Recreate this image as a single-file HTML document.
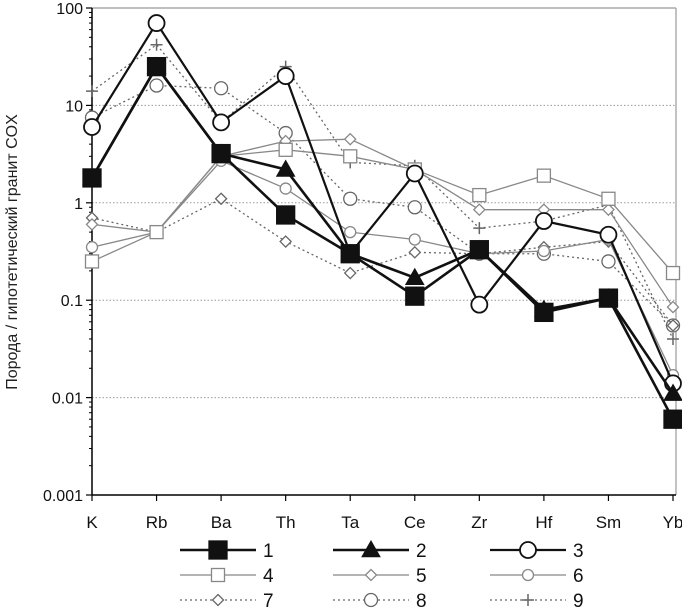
<!DOCTYPE html>
<html><head><meta charset="utf-8"><style>
body{margin:0;background:#fff}
svg{display:block;font-family:"Liberation Sans",Arial,sans-serif}
</style></head><body>
<svg id="c" width="682" height="610" viewBox="0 0 682 610" xmlns="http://www.w3.org/2000/svg"></svg>
<script>
const categories=["K","Rb","Ba","Th","Ta","Ce","Zr","Hf","Sm","Yb"];
const yTicks=[100,10,1,0.1,0.01,0.001];
const yTickLabels=["100","10","1","0.1","0.01","0.001"];
const s1=[1.8,25,3.2,0.75,0.3,0.11,0.33,0.075,0.105,0.006];
const s2=[1.8,25,3.2,2.2,0.3,0.17,0.33,0.08,0.105,0.011];
const s3=[6,70,6.7,20,0.3,2.0,0.09,0.65,0.47,0.014];
const s4=[0.25,0.5,3.0,3.5,3.0,2.2,1.2,1.9,1.1,0.19];
const s5=[0.6,0.5,3.0,4.3,4.5,2.2,0.85,0.85,0.85,0.085];
const s6=[0.35,0.5,2.7,1.4,0.5,0.42,0.3,0.32,0.42,0.017];
const s7=[0.7,0.5,1.1,0.4,0.19,0.31,0.3,0.35,0.4,0.055];
const s8=[7.5,16,15,5.2,1.1,0.9,0.3,0.3,0.25,0.055];
const s9=[14,42,6.7,25,2.6,2.4,0.55,0.65,0.95,0.04];
const seriesNames=["1","2","3","4","5","6","7","8","9"];

const NS="http://www.w3.org/2000/svg";
const svg=document.getElementById('c');
const X0=92,X1=673,Ytop=8,Ybot=495;
function xs(i){return X0+i*(X1-X0)/(categories.length-1);}
function ys(v){return Ybot-(Math.log10(v)+3)/5*(Ybot-Ytop);}
function mk(t,a,p){const e=document.createElementNS(NS,t);for(const k in a)e.setAttribute(k,a[k]);(p||svg).appendChild(e);return e;}

let e;
e=mk('line',{x1:X0,y1:Ytop,x2:676,y2:Ytop,stroke:'#999','stroke-width':1.2});

e=mk('line',{x1:676,y1:Ytop,x2:676,y2:Ybot,stroke:'#999','stroke-width':1.2});

yTicks.forEach((t,i)=>{
  const y=ys(t);
  if(i>0&&i<yTicks.length-1){
    e=mk('line',{x1:X0,y1:y,x2:676,y2:y,stroke:'#999','stroke-width':1,'stroke-dasharray':'1.5,2'});
    
  }
  e=mk('line',{x1:X0-6,y1:y,x2:X0,y2:y,stroke:'#000','stroke-width':1.2});
  
  e=mk('text',{x:X0-9,y:y+6,'text-anchor':'end','font-size':16,fill:'#111'});
  e.textContent=yTickLabels[i];
  
  if(i<yTicks.length-1){for(let m=2;m<10;m++){const yy=ys(t/10*m);
    e=mk('line',{x1:X0-3,y1:yy,x2:X0,y2:yy,stroke:'#000','stroke-width':1});
    }}
});
e=mk('line',{x1:X0,y1:Ytop,x2:X0,y2:Ybot,stroke:'#000','stroke-width':1.5});

e=mk('line',{x1:X0,y1:Ybot,x2:676,y2:Ybot,stroke:'#000','stroke-width':1.5});

categories.forEach((c,i)=>{
  e=mk('line',{x1:xs(i),y1:Ybot,x2:xs(i),y2:Ybot+6,stroke:'#000','stroke-width':1.2});
  
  e=mk('text',{x:xs(i),y:528,'text-anchor':'middle','font-size':17,fill:'#111'});
  e.textContent=c;
  
});
e=mk('text',{x:0,y:0,transform:'translate(17,252) rotate(-90)','text-anchor':'middle','font-size':16,fill:'#222'});
e.textContent='Порода / гипотетический гранит COX';


const styles=[
 {d:s1,c:'#111',w:2.6,dash:null,m:'sq',f:'#111',r:9},
 {d:s2,c:'#111',w:2.6,dash:null,m:'tri',f:'#111',r:9},
 {d:s3,c:'#111',w:2.2,dash:null,m:'circ',f:'#fff',r:8},
 {d:s4,c:'#888',w:1.3,dash:null,m:'sq',f:'#fff',r:6.5},
 {d:s5,c:'#888',w:1.3,dash:null,m:'dia',f:'#fff',r:5.5},
 {d:s6,c:'#888',w:1.3,dash:null,m:'circ',f:'#fff',r:5.5},
 {d:s7,c:'#666',w:1.3,dash:'2,3',m:'dia',f:'#fff',r:5.5},
 {d:s8,c:'#666',w:1.3,dash:'2,3',m:'circ',f:'#fff',r:6.5},
 {d:s9,c:'#666',w:1.3,dash:'2,3',m:'plus',f:'none',r:6}
];
function marker(g,type,x,y,st){
  let m;
  if(type==='sq')m=mk('rect',{x:x-st.r,y:y-st.r,width:2*st.r,height:2*st.r,fill:st.f,stroke:st.c,'stroke-width':1.3},g);
  else if(type==='circ')m=mk('circle',{cx:x,cy:y,r:st.r,fill:st.f,stroke:st.c,'stroke-width':st.w>2?1.8:1.3},g);
  else if(type==='tri')m=mk('polygon',{points:`${x},${y-st.r} ${x-st.r},${y+st.r*0.75} ${x+st.r},${y+st.r*0.75}`,fill:st.f,stroke:st.c},g);
  else if(type==='dia')m=mk('polygon',{points:`${x},${y-st.r} ${x+st.r},${y} ${x},${y+st.r} ${x-st.r},${y}`,fill:st.f,stroke:st.c,'stroke-width':1.3},g);
  else m=mk('path',{d:`M${x-st.r} ${y}H${x+st.r}M${x} ${y-st.r}V${y+st.r}`,stroke:st.c,'stroke-width':1.5,fill:'none'},g);
  
  
}
for(let k=styles.length-1;k>=0;k--){
  const st=styles[k];
  const g=mk('g',{});
  
  
  const pts=st.d.map((v,i)=>v==null?null:[xs(i),ys(v)]).filter(p=>p);
  const pl=mk('polyline',{points:pts.map(p=>p.join(',')).join(' '),fill:'none',stroke:st.c,'stroke-width':st.w},g);
  if(st.dash)pl.setAttribute('stroke-dasharray',st.dash);
  
  
  pts.forEach(p=>marker(g,st.m,p[0],p[1],st));
}
const colX=[180,333,490];const rowY=[550,575,600];
styles.forEach((st,k)=>{
  const x=colX[k%3],y=rowY[Math.floor(k/3)];
  const g=mk('g',{});
  
  
  const l=mk('line',{x1:x,y1:y,x2:x+76,y2:y,stroke:st.c,'stroke-width':st.w},g);
  if(st.dash)l.setAttribute('stroke-dasharray',st.dash);
  marker(g,st.m,x+38,y,st);
  const t=mk('text',{x:x+83,y:y+7,'font-size':19,fill:'#111'},g);
  t.textContent=seriesNames[k];
});
</script>
</body></html>
